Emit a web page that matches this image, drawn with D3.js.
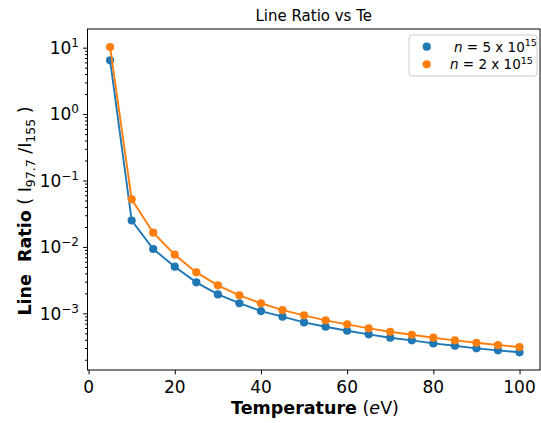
<!DOCTYPE html>
<html><head><meta charset="utf-8">
<script src="https://cdn.jsdelivr.net/npm/d3@7"></script>
<style>body{margin:0;background:#fff}svg{display:block;font-family:"DejaVu Sans",sans-serif}</style>
</head><body>
<script>
const temperatures = [5,10,15,20,25,30,35,40,45,50,55,60,65,70,75,80,85,90,95,100];
const ratioN5 = [6.45,0.025,0.0093,0.00504,0.00293,0.00193,0.00142,0.00108,0.00089,0.00073,0.000628,0.000547,0.000483,0.00043,0.000392,0.000353,0.000325,0.000297,0.000277,0.000259];
const ratioN2 = [10.2,0.052,0.0164,0.00764,0.00414,0.00264,0.00187,0.00142,0.00112,0.000933,0.000785,0.000683,0.000594,0.000528,0.000476,0.00043,0.000392,0.00036,0.000333,0.000311];
const xTicks = [0,20,40,60,80,100];
const yTickExps = [-3,-2,-1,0,1];
const seriesNames = [["5","15"],["2","15"]];
const colors = ["#1f77b4","#ff7f0e"];

const W=541,H=423;
const L=87.5,R=540,T=29,B=370;
const svg=d3.select("body").append("svg").attr("width",W).attr("height",H);
svg.append("rect").attr("width",W).attr("height",H).attr("fill","#fff");

const x=d3.scaleLinear().domain([-0.25,104.75]).range([L,R]);
const y=d3.scaleLog().domain([Math.pow(10,-3.853),Math.pow(10,1.281)]).range([B,T]);

// minor ticks
const minor=[];
for(let e=-4;e<=1;e++){for(let m=2;m<=9;m++){const v=m*Math.pow(10,e);if(v>=y.domain()[0]&&v<=y.domain()[1])minor.push(v);}}
const gy=svg.append("g").attr("transform",`translate(${L},0)`);
gy.call(d3.axisLeft(y).tickValues(minor).tickSize(2.5).tickFormat(""));
gy.append("g").call(d3.axisLeft(y).tickValues(yTickExps.map(e=>Math.pow(10,e))).tickSize(4.4).tickFormat(""));
gy.selectAll("path.domain").remove();
gy.selectAll("line").attr("stroke","#000").attr("stroke-width",1);

const gx=svg.append("g").attr("transform",`translate(0,${B})`);
gx.call(d3.axisBottom(x).tickValues(xTicks).tickSize(4.4).tickFormat(""));
gx.selectAll("path.domain").remove();
gx.selectAll("line").attr("stroke","#000").attr("stroke-width",1);

// x tick labels
svg.append("g").selectAll("text").data(xTicks).join("text")
 .attr("x",d=>x(d)).attr("y",392.5).attr("text-anchor","middle")
 .attr("font-size",17).attr("fill","#000").text(d=>d);

// y tick labels
yTickExps.forEach(e=>{
  const t=svg.append("text").attr("x",79).attr("y",y(Math.pow(10,e))+6.3)
   .attr("text-anchor","end").attr("font-size",17).attr("fill","#000");
  t.append("tspan").text("10");
  t.append("tspan").attr("dy",-7).attr("font-size",12).text(e<0?"\u2212"+(-e):String(e));
});

// frame
svg.append("rect").attr("x",L).attr("y",T).attr("width",R-L).attr("height",B-T)
 .attr("fill","none").attr("stroke","#000").attr("stroke-width",1);

// series
const line=d3.line().x(d=>x(d[0])).y(d=>y(d[1]));
[ratioN5,ratioN2].forEach((vals,i)=>{
  const pts=temperatures.map((t,j)=>[t,vals[j]]);
  svg.append("path").datum(pts).attr("d",line).attr("fill","none")
   .attr("stroke",colors[i]).attr("stroke-width",1.9);
  svg.append("g").selectAll("circle").data(pts).join("circle")
   .attr("cx",d=>x(d[0])).attr("cy",d=>y(d[1])).attr("r",4.1).attr("fill",colors[i]);
});

// title
svg.append("text").attr("x",(L+R)/2).attr("y",21).attr("text-anchor","middle")
 .attr("font-size",15).attr("fill","#000").text("Line Ratio vs Te");

// x label
const xl=svg.append("text").attr("x",315).attr("y",414).attr("text-anchor","middle")
 .attr("font-size",17.5).attr("fill","#000");
xl.append("tspan").attr("font-weight","bold").text("Temperature");
xl.append("tspan").text(" (");
xl.append("tspan").attr("font-style","italic").text("e");
xl.append("tspan").text("V)");

// y label
const yl=svg.append("text").attr("transform","translate(31,211) rotate(-90)")
 .attr("text-anchor","middle").attr("font-size",17.5).attr("fill","#000");
yl.append("tspan").attr("font-weight","bold").text("Line\u00a0 Ratio");
yl.append("tspan").text(" ( I");
yl.append("tspan").attr("font-size",12.5).attr("dy",4).text("97.7");
yl.append("tspan").attr("dy",-4).text(" /I");
yl.append("tspan").attr("font-size",12.5).attr("dy",4).text("155");
yl.append("tspan").attr("dy",-4).text(" )");

// legend
const lg=svg.append("g");
lg.append("rect").attr("x",409).attr("y",35).attr("width",128).attr("height",41)
 .attr("rx",3).attr("fill","#fff").attr("fill-opacity",0.8).attr("stroke","#ccc").attr("stroke-width",1);
seriesNames.forEach((s,i)=>{
  const cy=46.7+i*17.6;
  lg.append("circle").attr("cx",426.7).attr("cy",cy).attr("r",4.1).attr("fill",colors[i]);
  const t=lg.append("text").attr("x",i===0?454:450).attr("y",cy+4.8).attr("font-size",13.5).attr("fill","#000");
  t.append("tspan").attr("font-style","italic").text("n");
  t.append("tspan").text(" = "+s[0]+" x 10");
  t.append("tspan").attr("dy",-5.5).attr("font-size",9.5).text(s[1]);
});
</script>
</body></html>
